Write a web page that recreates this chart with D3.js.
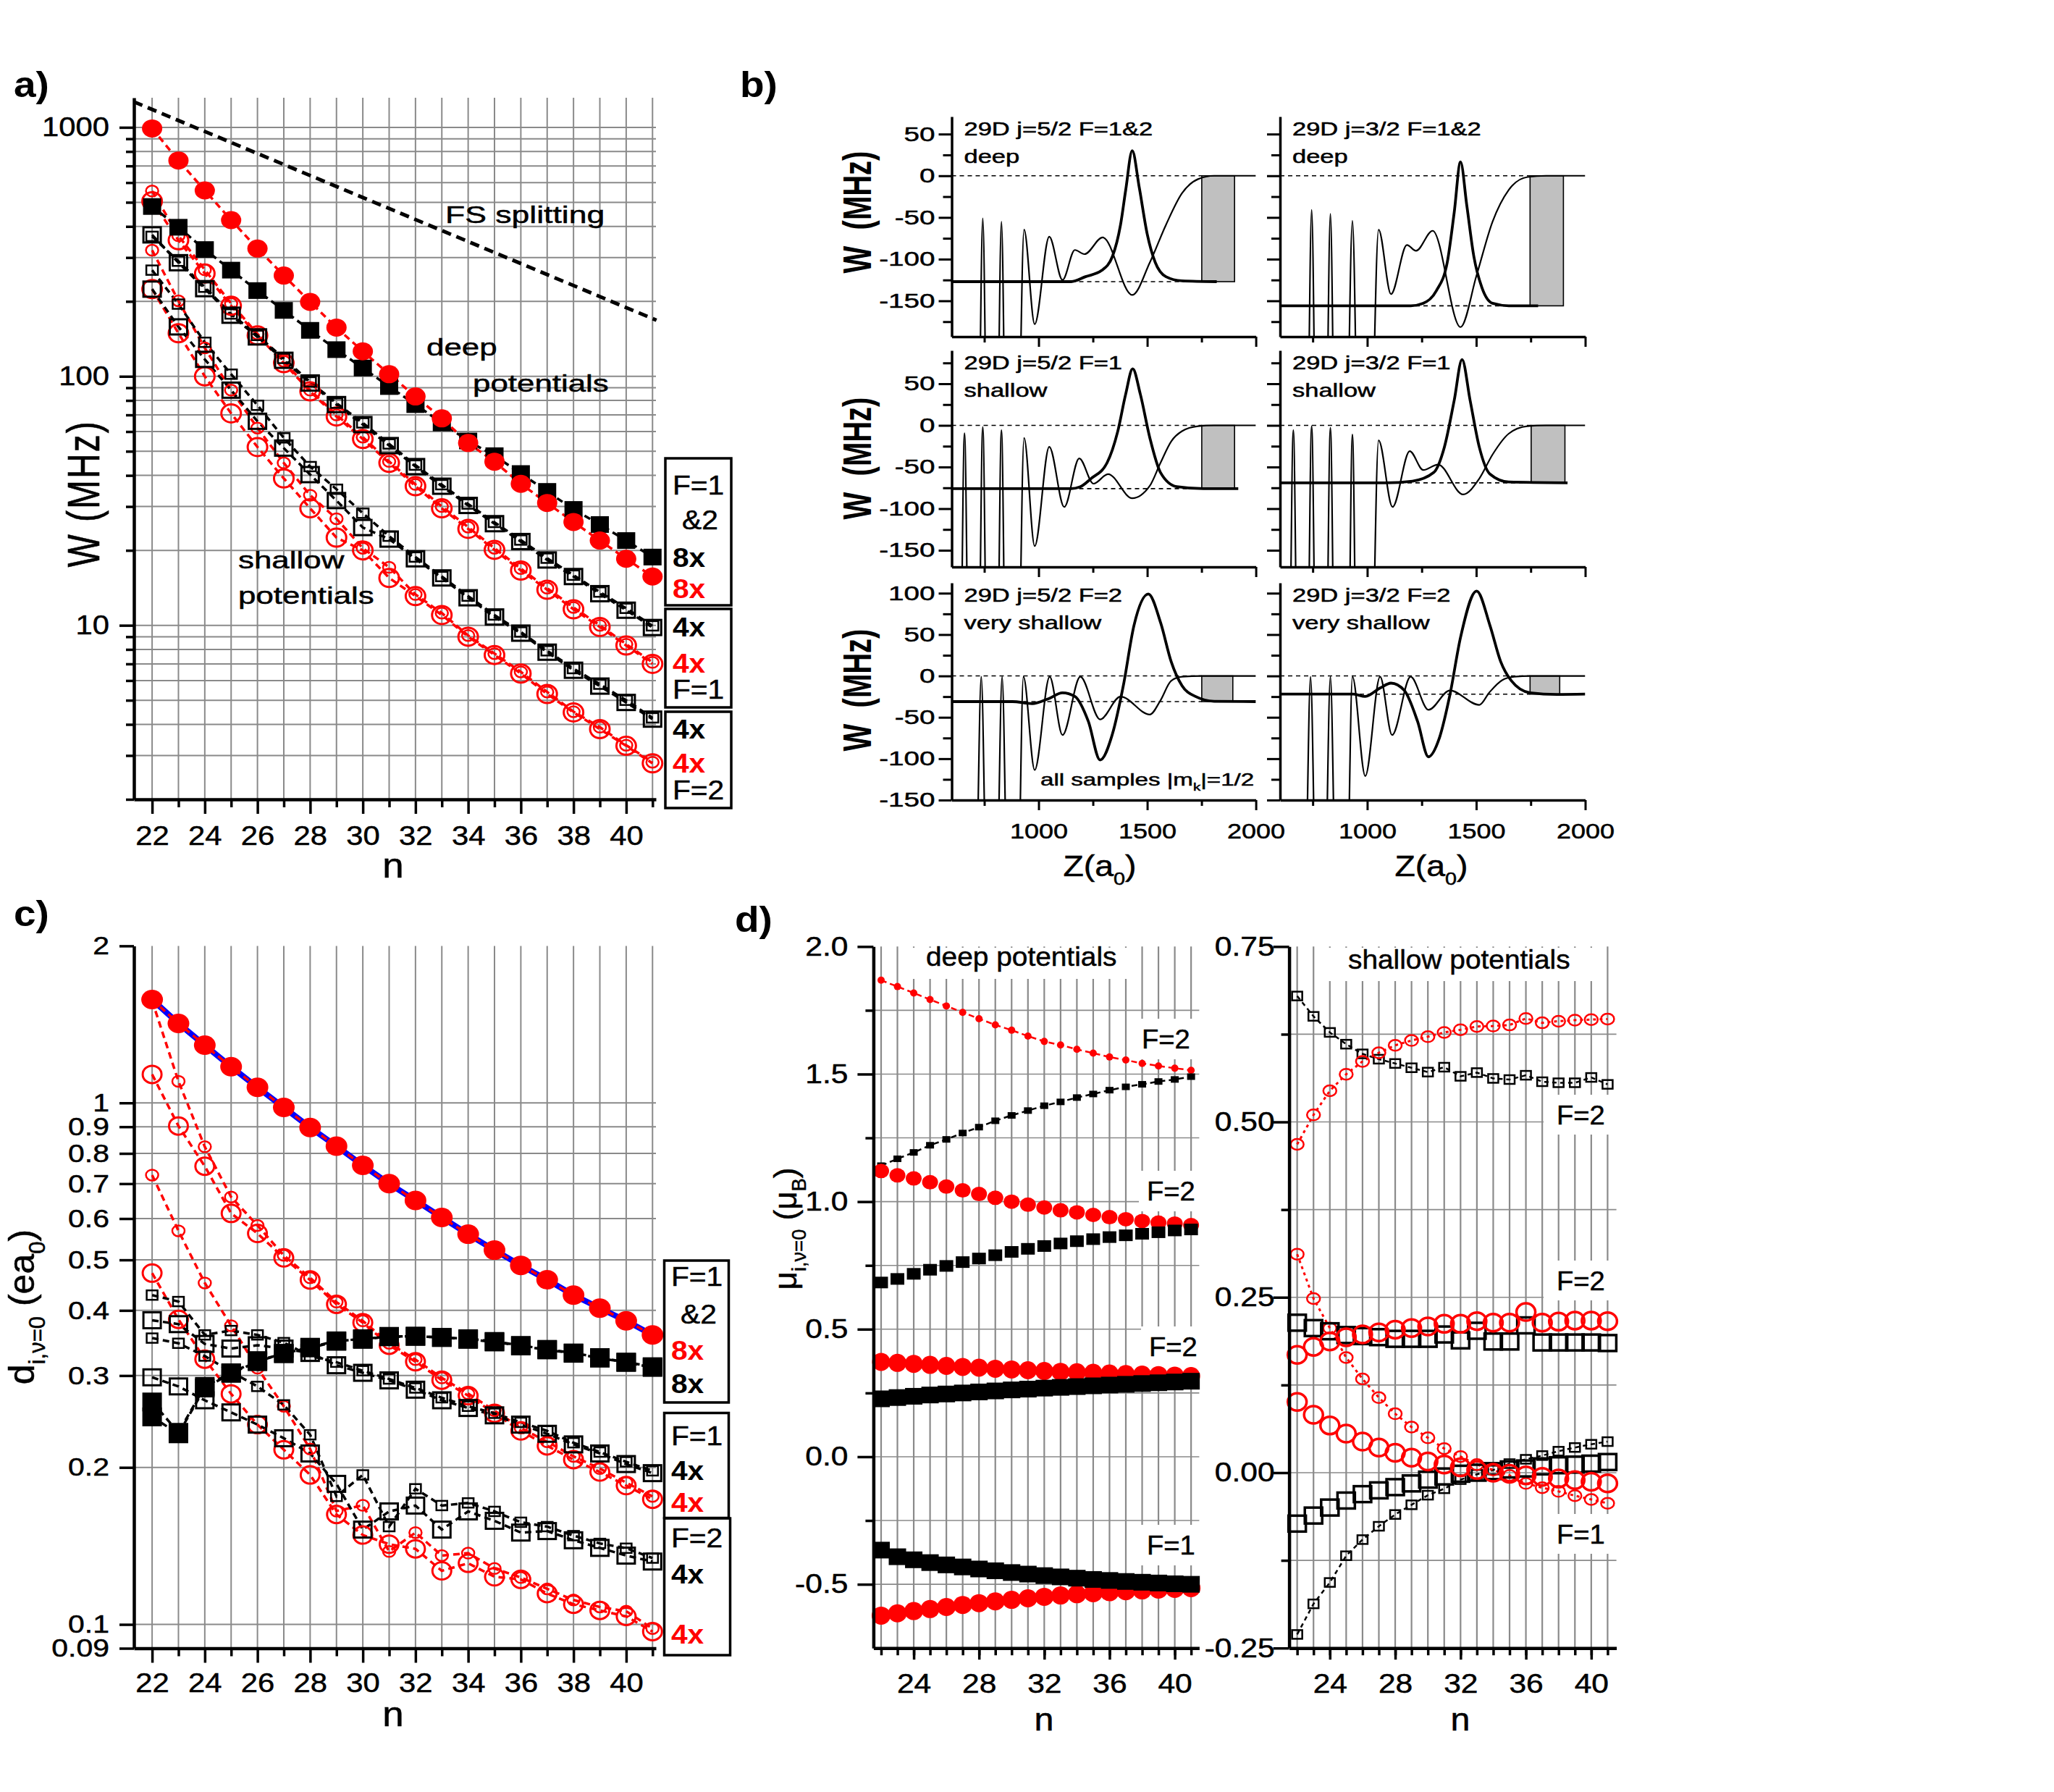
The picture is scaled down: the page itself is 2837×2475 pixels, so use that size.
<!DOCTYPE html>
<html>
<head>
<meta charset="utf-8">
<script src="https://cdn.jsdelivr.net/npm/d3@7"></script>
<style>
  body { margin: 0; background: #fff; }
  svg { display: block; }
</style>
</head>
<body>
<svg id="fig" width="2837" height="2475"></svg>
<script>
// ---------- data ----------
const nVals = [22,23,24,25,26,27,28,29,30,31,32,33,34,35,36,37,38,39,40,41];
const nEven = [22,24,26,28,30,32,34,36,38,40];
const nOdd  = [23,25,27,29,31,33,35,37,39,41];
const nMajD = [24,28,32,36,40];

// a) W (MHz) vs n
const aFSn = [21.3, 41.15];
const aFSw = [1267, 168];
const aRed8    = [990,736,558,424,326,254,199,157,126,102,83,67.8,54,45.4,37,31,26,21.9,18.5,15.7];
const aBlk8    = [481,397,323,267,221,184,153,128,108,91,77,65,55,48,40.7,34.5,29.2,25.4,21.9,18.8];
const aF1Blk4  = [370,286,225,176,144,116,94,77,64,52.7,43.4,36.2,30.3,25.6,21.7,18.3,15.7,13.4,11.5,9.8];
const aF1Blk4s = [365,290,228,178,146,118,95,78,65,53.5,44,36.7,30.7,25.9,22,18.6,15.9,13.6,11.7,9.95];
const aF1Red4  = [505,352,259,192,146,113,87,69,56,44.9,36.2,29.5,24.4,20.1,16.6,13.9,11.6,9.85,8.3,7.0];
const aF1Red4s = [555,367,268,196,148,115,88,70,57,45.5,36.8,30,24.8,20.4,16.9,14.1,11.8,10,8.4,7.1];
const aF2Blk4  = [224,158,117,88,66,51.5,40.3,31.7,24.7,22.2,18.5,15.5,12.9,10.8,9.3,7.8,6.6,5.7,4.9,4.2];
const aF2Blk4s = [267,195,137,102,76.5,56.6,43.4,35.2,28.2,22.8,18.8,15.7,13.1,11,9.4,7.9,6.7,5.8,5,4.25];
const aF2Red4  = [224,149,100,71,52,38.9,29.5,22.5,20,15.5,13.1,11,9.0,7.6,6.4,5.3,4.47,3.83,3.28,2.79];
const aF2Red4s = [321,201,130,88,62,44.9,33.3,26.8,20.4,17.1,13.3,11.2,9.1,7.7,6.5,5.4,4.5,3.9,3.3,2.82];
const aMajorW = [10,100,1000];
const aMinorW = [2,3,4,5,6,7,8,9,20,30,40,50,60,70,80,90,200,300,400,500,600,700,800,900];

// b) potentials (Z in a0, W in MHz)
const b11PotZ = [680,719,743,767,805,829,853,900,933,982,1049,1110,1167,1211,1295,1431,1512,1586,1660,1734,1808,2000];
const b11PotW = [-400,-400,-51,-400,-400,-55,-400,-400,-64.5,-178,-73,-125,-89,-94,-74,-143,-104,-59,-21,-4,0,0];
const b11WfZ  = [600,1150,1216,1290,1340,1377,1401,1431,1463,1500,1537,1586,1660,1820];
const b11WfW  = [-127,-127,-121,-113.6,-96.6,-59,-17,30,-13.6,-70,-104,-121,-126,-127];
const b12PotZ = [680,721,745,769,807,831,855,900,932,964,1010,1052,1109,1182,1224,1300,1428,1502,1575,1649,1735,1821,2000];
const b12PotW = [-400,-400,-41,-400,-400,-45.7,-400,-400,-54,-400,-400,-64.5,-142,-83,-90,-66,-181.5,-119,-55,-17,-1.5,0,0];
const b12WfZ  = [600,1200,1256,1317,1367,1399,1428,1457,1489,1526,1575,1649,1784];
const b12WfW  = [-156,-156,-153,-138,-104,-44,16.6,-36,-96.6,-134,-153,-156,-156];
const b21PotZ = [600,635,659,683,719,743,767,805,829,853,900,933,982,1049,1118,1187,1253,1320,1431,1512,1561,1611,1660,1734,1808,2000];
const b21PotW = [-400,-400,-9.4,-400,-400,-2,-400,-400,-5.7,-400,-400,-15,-145,-25.7,-98,-39.6,-70,-58.5,-87.5,-72.5,-45,-19,-7,-1,0,0];
const b21WfZ  = [600,1150,1190,1241,1315,1364,1401,1433,1468,1512,1561,1636,1759,1919];
const b21WfW  = [-76,-76,-74,-64,-45,-7.5,37.7,68,37.7,-15,-56.6,-73.6,-76,-76];
const b22PotZ = [600,637,661,685,721,745,769,807,831,855,908,932,956,1012,1052,1116,1195,1257,1325,1440,1514,1575,1649,1735,1821,2000];
const b22PotW = [-400,-400,-5.7,-400,-400,-1,-400,-400,-3,-400,-400,-11,-400,-400,-18,-98,-31,-53.6,-47,-83,-64,-35,-10,-1,0,0];
const b22WfZ  = [600,1084,1207,1305,1354,1399,1435,1472,1514,1563,1649,1919];
const b22WfW  = [-69,-69,-67,-56.6,-26,30,79,30,-26,-58.5,-68,-69];
const b31PotZ = [600,708,736,764,804,832,860,902,930,982,1051,1110,1192,1283,1377,1512,1560,1610,1660,1751,2000];
const b31PotW = [-300,-300,-1,-300,-300,-1,-300,-300,-1,-113.7,-1,-71.4,-1,-52.5,-25,-46.6,-30,-6,-1,0,0];
const b31WfZ  = [600,880,970,1044,1110,1167,1229,1283,1340,1390,1439,1505,1562,1610,1660,1722,1808,2000];
const b31WfW  = [-31,-31,-33.5,-27.7,-20.4,-24.8,-55,-101.5,-70,-11.7,61,99,64,17.5,-11.7,-24.8,-30.6,-31];
const b32PotZ = [600,712,740,768,803,831,859,904,932,991,1059,1114,1199,1281,1379,1514,1560,1620,1674,1750,2000];
const b32PotW = [-300,-300,-1,-300,-300,-1,-300,-300,-1,-121,-1,-71.4,-1,-41,-17.5,-35,-20,-5,-1,0,0];
const b32WfZ  = [600,937,991,1059,1109,1170,1231,1281,1330,1379,1428,1502,1563,1612,1661,1747,1870,2000];
const b32WfW  = [-22,-22,-24.8,-14.6,-8.7,-17.5,-55,-97.7,-75.8,-23.3,46.6,102.6,61,17.5,-5.8,-20.4,-22.4,-22];
const bEnergy = [-127,-156,-76,-69,-31,-22];
const bBoxZ0  = [1751,1747,1751,1752,1751,1747];
const bBoxZ1  = [1902,1900,1902,1907,1894,1883];
const bTitles = ["29D j=5/2 F=1&2","29D j=3/2 F=1&2","29D j=5/2 F=1","29D j=3/2 F=1","29D j=5/2 F=2","29D j=3/2 F=2"];
const bKinds  = ["deep","deep","shallow","shallow","very shallow","very shallow"];
const bYMajor = [[50,0,-50,-100,-150],[50,0,-50,-100,-150],[100,50,0,-50,-100,-150]];
const bYMinor = [[25,-25,-75,-125,-175],[75,25,-25,-75,-125],[75,25,-25,-75,-125]];
const bXMajor = [1000,1500,2000];
const bXMinor = [750,1250,1750];

// c) dipole moment vs n
const cRed8    = [1.578,1.42,1.29,1.173,1.071,0.98,0.897,0.826,0.759,0.70,0.65,0.603,0.56,0.522,0.488,0.458,0.428,0.404,0.382,0.359];
const cBlk8a   = [0.267,0.2335,0.286,0.3037,0.3205,0.3304,0.34,0.3497,0.352,0.3567,0.3567,0.355,0.353,0.3488,0.3427,0.3368,0.3315,0.3248,0.3183,0.312];
const cBlk8b   = [0.25,0.232,0.284,0.303,0.319,0.331,0.339,0.349,0.353,0.356,0.357,0.355,0.352,0.348,0.342,0.336,0.331,0.324,0.318,0.311];
const cF1Red4  = [1.134,0.903,0.756,0.614,0.562,0.5045,0.4575,0.411,0.379,0.343,0.319,0.294,0.2746,0.254,0.235,0.22,0.207,0.196,0.1846,0.1738];
const cF1Red4s = [1.57,1.10,0.824,0.66,0.582,0.51,0.462,0.415,0.382,0.346,0.322,0.297,0.277,0.257,0.238,0.224,0.21,0.199,0.187,0.176];
const cF1Blk4  = [0.383,0.3765,0.345,0.338,0.343,0.338,0.3315,0.314,0.3037,0.2937,0.2819,0.269,0.26,0.2517,0.2416,0.232,0.2214,0.2127,0.203,0.195];
const cF1Blk4s = [0.428,0.416,0.359,0.366,0.359,0.347,0.327,0.3183,0.3065,0.2955,0.284,0.272,0.262,0.254,0.244,0.235,0.223,0.214,0.205,0.197];
const cF2Red4  = [0.4716,0.3845,0.3226,0.2767,0.2416,0.2162,0.1935,0.1625,0.1484,0.1425,0.1396,0.1267,0.131,0.1234,0.122,0.1146,0.1093,0.1064,0.1036,0.0969];
const cF2Red4s = [0.727,0.5685,0.4515,0.374,0.31,0.262,0.217,0.165,0.1692,0.138,0.15,0.1355,0.137,0.128,0.123,0.117,0.1114,0.108,0.106,0.0982];
const cF2Blk4  = [0.2977,0.286,0.269,0.255,0.2416,0.2275,0.2127,0.186,0.152,0.1647,0.169,0.152,0.1647,0.158,0.15,0.151,0.145,0.1402,0.1355,0.132];
const cF2Blk4s = [0.354,0.346,0.327,0.305,0.286,0.2636,0.231,0.176,0.1935,0.154,0.182,0.169,0.171,0.1647,0.157,0.154,0.148,0.143,0.14,0.134];
const cTicks   = [0.09,0.1,0.2,0.3,0.4,0.5,0.6,0.7,0.8,0.9,1,2];
const cGrid    = [0.1,0.2,0.3,0.4,0.5,0.6,0.7,0.8,0.9,1];

// d) magnetic moment vs n
const dL_redS  = [1.868,1.843,1.818,1.792,1.767,1.742,1.717,1.693,1.672,1.649,1.628,1.614,1.597,1.582,1.567,1.555,1.542,1.532,1.523,1.515];
const dL_blkS  = [1.141,1.168,1.193,1.221,1.244,1.269,1.292,1.317,1.338,1.357,1.376,1.391,1.408,1.422,1.437,1.45,1.46,1.471,1.479,1.49];
const dL_redM  = [1.12,1.103,1.091,1.076,1.059,1.044,1.03,1.015,1.0,0.988,0.977,0.966,0.958,0.948,0.939,0.931,0.924,0.918,0.914,0.908];
const dL_blkM  = [0.683,0.697,0.717,0.733,0.748,0.763,0.777,0.79,0.803,0.815,0.826,0.836,0.845,0.853,0.861,0.868,0.874,0.88,0.887,0.891];
const dL_redL  = [0.372,0.368,0.364,0.36,0.356,0.352,0.349,0.345,0.342,0.339,0.336,0.333,0.331,0.329,0.326,0.324,0.322,0.32,0.318,0.316];
const dL_blkL  = [0.227,0.232,0.237,0.242,0.246,0.25,0.254,0.258,0.262,0.265,0.269,0.272,0.275,0.278,0.281,0.284,0.287,0.29,0.293,0.296];
const dL_redF1 = [-0.623,-0.614,-0.605,-0.597,-0.589,-0.581,-0.574,-0.567,-0.561,-0.555,-0.549,-0.544,-0.539,-0.535,-0.531,-0.527,-0.524,-0.521,-0.518,-0.515];
const dL_blkF1 = [-0.366,-0.392,-0.404,-0.415,-0.424,-0.432,-0.44,-0.447,-0.454,-0.46,-0.466,-0.471,-0.476,-0.481,-0.485,-0.489,-0.492,-0.495,-0.498,-0.5];
const dR_A = [0.6795,0.6505,0.6276,0.6108,0.597,0.5894,0.5833,0.5772,0.571,0.578,0.565,0.5703,0.562,0.5604,0.5665,0.5573,0.5558,0.5558,0.5634,0.5535];
const dR_B = [0.468,0.51,0.5444,0.568,0.5863,0.5986,0.6092,0.6161,0.6215,0.6276,0.6314,0.636,0.6367,0.6382,0.6474,0.6413,0.6436,0.6451,0.6459,0.6467];
const dR_C = [0.2138,0.2061,0.2016,0.1962,0.1947,0.1932,0.1908,0.1908,0.1908,0.197,0.1886,0.2023,0.187,0.187,0.21,0.1856,0.1856,0.1856,0.1856,0.1848];
const dR_D = [0.168,0.1794,0.187,0.1931,0.197,0.2,0.2039,0.2061,0.2085,0.2122,0.2122,0.216,0.2138,0.2138,0.229,0.2138,0.2153,0.2168,0.2168,0.216];
const dR_E = [0.3115,0.2482,0.2061,0.1641,0.1336,0.107,0.084,0.065,0.0497,0.0344,0.023,0.0115,0.0038,-0.0038,-0.0153,-0.0214,-0.0267,-0.0328,-0.0382,-0.0436];
const dR_F = [0.1008,0.0825,0.0672,0.0557,0.0443,0.0359,0.0283,0.0214,0.016,0.0115,0.0076,0.0038,0.0,-0.0015,-0.0038,-0.006,-0.0084,-0.0107,-0.013,-0.0153];
const dR_G = [-0.0726,-0.0611,-0.0497,-0.0397,-0.0306,-0.0252,-0.0206,-0.0153,-0.0099,-0.0054,-0.0015,0,0.0022,0.0046,0.006,0.009,0.0106,0.0115,0.0129,0.0152];
const dR_H = [-0.2306,-0.187,-0.1565,-0.1184,-0.0954,-0.0764,-0.0596,-0.0458,-0.0321,-0.0229,-0.0099,-0.0023,0.0038,0.0129,0.0191,0.0244,0.0306,0.0359,0.0405,0.0443];
const dLMajor = [-0.5,0,0.5,1,1.5,2];
const dLMinor = [-0.25,0.25,0.75,1.25,1.75];
const dLGrid  = [-0.5,-0.25,0,0.25,0.5,0.75,1,1.25,1.5,1.75];
const dRMajor = [-0.25,0,0.25,0.5,0.75];
const dRMinor = [-0.125,0.125,0.375,0.625];
const dRGrid  = [-0.125,0,0.125,0.25,0.375,0.5,0.625];

// ---------- helpers ----------
const FONT = '"Liberation Sans", Arial, Helvetica, sans-serif';
const RED = "#ff0000", GRID = "#8a8a8a";
const svg = d3.select("#fig");
svg.append("rect").attr("width", 2837).attr("height", 2475).attr("fill", "#fff");

function txt(parent, x, y, parts, o = {}) {
  const fs = o.fs || 30;
  let tf = `translate(${x},${y})`;
  if (o.sx) tf += ` scale(${o.sx},1)`;
  if (o.rot) tf += ` rotate(${o.rot})`;
  const t = parent.append("text").attr("transform", tf)
    .attr("font-family", FONT).attr("font-size", fs)
    .attr("font-weight", o.bold ? "bold" : "normal")
    .attr("fill", o.fill || "#000")
    .attr("stroke", o.bold ? "none" : (o.fill || "#000")).attr("stroke-width", o.bold ? 0 : 0.5)
    .attr("text-anchor", o.anchor || "start")
    .style("white-space", "pre");
  if (o.ls != null) t.attr("letter-spacing", o.ls);
  if (typeof parts === "string") parts = [parts];
  let shift = 0;
  parts.forEach(p => {
    const isSub = typeof p !== "string";
    const want = isSub ? fs * 0.3 : 0;
    const ts = t.append("tspan").text(isSub ? p.sub : p).attr("dy", want - shift);
    if (isSub) ts.attr("font-size", fs * 0.62);
    shift = want;
  });
  return t;
}

function styleTicks(g, o) {
  g.selectAll(".tick line").attr("stroke", "#000").attr("stroke-width", o.tw || 3);
  return g.selectAll(".tick text").attr("font-family", FONT).attr("font-size", o.fs || 30)
    .attr("fill", "#000").attr("stroke", "#000").attr("stroke-width", 0.5);
}
function axisL(parent, scale, x, vals, len, o = {}) {
  const pad = o.pad || 0, sx = o.sx || 1;
  const g = parent.append("g").attr("transform", `translate(${x},0)`)
    .call(d3.axisLeft(scale).tickValues(vals).tickSize(len).tickSizeOuter(0)
      .tickPadding(pad).tickFormat(o.fmt || (() => "")));
  if (o.noDomain) g.select(".domain").remove();
  else g.select(".domain").attr("stroke", "#000").attr("stroke-width", o.dw || 4);
  styleTicks(g, o).attr("x", -(len + pad) / sx).attr("transform", `scale(${sx},1)`);
  return g;
}
function axisB(parent, scale, y, vals, len, o = {}) {
  const pad = o.pad || 0, sx = o.sx || 1;
  const g = parent.append("g").attr("transform", `translate(0,${y})`)
    .call(d3.axisBottom(scale).tickValues(vals).tickSize(len).tickSizeOuter(0)
      .tickPadding(pad).tickFormat(o.fmt || (() => "")));
  if (o.noDomain) g.select(".domain").remove();
  else g.select(".domain").attr("stroke", "#000").attr("stroke-width", o.dw || 4);
  styleTicks(g, o).attr("transform", `scale(${sx},1)`);
  return g;
}

function seriesLine(g, xs, ysc, vals, st) {
  if (!st.dash && !st.solid) return;
  g.append("path").datum(nVals.map((n, i) => [n, vals[i]]))
    .attr("d", d3.line().x(d => xs(d[0])).y(d => ysc(d[1])))
    .attr("fill", "none").attr("stroke", st.lc || st.color)
    .attr("stroke-width", st.lw || 3.5)
    .attr("stroke-dasharray", st.solid ? null : st.dash);
}
function seriesMarks(g, xs, ysc, vals, st) {
  if (!st.shape) return;
  const pts = nVals.map((n, i) => [n, vals[i]]);
  const m = g.append("g");
  if (st.shape === "circle") {
    m.selectAll("ellipse").data(pts).join("ellipse")
      .attr("cx", d => xs(d[0])).attr("cy", d => ysc(d[1]))
      .attr("rx", st.w / 2).attr("ry", st.h / 2)
      .attr("fill", st.filled ? st.color : "none")
      .attr("stroke", st.filled ? "none" : st.color)
      .attr("stroke-width", st.sw || 3);
  } else {
    m.selectAll("rect").data(pts).join("rect")
      .attr("x", d => xs(d[0]) - st.w / 2).attr("y", d => ysc(d[1]) - st.h / 2)
      .attr("width", st.w).attr("height", st.h)
      .attr("fill", st.filled ? st.color : "none")
      .attr("stroke", st.filled ? "none" : st.color)
      .attr("stroke-width", st.sw || 3);
  }
}
function vgrid(g, xs, ysc, vals, w) {
  const [y0, y1] = ysc.range();
  g.append("g").selectAll("line").data(vals).join("line")
    .attr("x1", d => xs(d)).attr("x2", d => xs(d)).attr("y1", y0).attr("y2", y1)
    .attr("stroke", GRID).attr("stroke-width", w || 2);
}
function hgrid(g, xs, ysc, vals, w) {
  const [x0, x1] = xs.range();
  g.append("g").selectAll("line").data(vals).join("line")
    .attr("x1", x0).attr("x2", x1).attr("y1", d => ysc(d)).attr("y2", d => ysc(d))
    .attr("stroke", GRID).attr("stroke-width", w || 2);
}
function legendBox(g, x, y, w, h, items) {
  g.append("rect").attr("x", x).attr("y", y).attr("width", w).attr("height", h)
    .attr("fill", "none").attr("stroke", "#000").attr("stroke-width", 3.5);
  items.forEach(it => txt(g, it.x, it.y, it.t, { fs: 37, sx: 1.1, bold: it.bold, fill: it.fill }));
}

// ---------- panel a ----------
const gA = svg.append("g");
const xA = d3.scaleLinear().domain([21.31, 41.13]).range([185, 906]);
const yA = d3.scaleLog().domain([2, 1315]).range([1104, 135]);
vgrid(gA, xA, yA, nVals, 2);
hgrid(gA, xA, yA, aMinorW.concat(aMajorW), 2);

gA.append("path").datum(aFSn.map((n, i) => [n, aFSw[i]]))
  .attr("d", d3.line().x(d => xA(d[0])).y(d => yA(d[1])))
  .attr("fill", "none").attr("stroke", "#000").attr("stroke-width", 5).attr("stroke-dasharray", "13,8");

const aDash = "9,6";
const aSeries = [
  { v: aF2Red4s, color: RED, shape: "circle", w: 17, h: 15, sw: 2.5, dash: aDash },
  { v: aF2Red4,  color: RED, shape: "circle", w: 27, h: 25, sw: 3, dash: aDash },
  { v: aF2Blk4s, color: "#000", shape: "square", w: 16, h: 13, sw: 2.5, dash: aDash },
  { v: aF2Blk4,  color: "#000", shape: "square", w: 24, h: 21, sw: 3, dash: aDash },
  { v: aF1Red4s, color: RED, shape: "circle", w: 17, h: 15, sw: 2.5, dash: aDash },
  { v: aF1Red4,  color: RED, shape: "circle", w: 27, h: 25, sw: 3, dash: aDash },
  { v: aF1Blk4s, color: "#000", shape: "square", w: 16, h: 13, sw: 2.5, dash: aDash },
  { v: aF1Blk4,  color: "#000", shape: "square", w: 24, h: 21, sw: 3, dash: aDash },
  { v: aBlk8,    color: "#000", shape: "square", w: 25, h: 23, filled: true, dash: aDash },
  { v: aRed8,    color: RED, shape: "circle", w: 28, h: 25, filled: true, dash: aDash }
];
aSeries.forEach(s => seriesLine(gA, xA, yA, s.v, s));
aSeries.forEach(s => seriesMarks(gA, xA, yA, s.v, s));

axisL(gA, yA, 185, aMajorW, 20, { pad: 14, fs: 37, sx: 1.13, fmt: d => String(d), dw: 4.5, tw: 3.5 });
axisL(gA, yA, 185, aMinorW, 11, { noDomain: true, tw: 3.5 });
axisB(gA, xA, 1104, nEven, 20, { pad: 17, fs: 37, sx: 1.13, fmt: d => String(d), dw: 4.5, tw: 3.5 });
axisB(gA, xA, 1104, nOdd, 11, { noDomain: true, tw: 3.5 });

txt(gA, 137, 682, "W (MHz)", { fs: 48, sx: 1.3, rot: -90, anchor: "middle", ls: 2 });
txt(gA, 543, 1212, "n", { fs: 48, sx: 1.1, anchor: "middle" });
txt(gA, 615, 308, "FS splitting", { fs: 34, sx: 1.31 });
txt(gA, 589, 491, "deep", { fs: 33, sx: 1.33 });
txt(gA, 653, 541, "potentials", { fs: 33, sx: 1.33 });
txt(gA, 329, 785, "shallow", { fs: 33, sx: 1.33 });
txt(gA, 329, 834, "potentials", { fs: 33, sx: 1.33 });
txt(gA, 19, 134, "a)", { fs: 50, sx: 1.1, bold: true });

legendBox(gA, 919, 633, 91, 203, [
  { t: "F=1", x: 929, y: 683 }, { t: "&2", x: 942, y: 731 },
  { t: "8x", x: 929, y: 783, bold: true }, { t: "8x", x: 929, y: 826, bold: true, fill: RED }]);
legendBox(gA, 919, 841, 91, 136, [
  { t: "4x", x: 929, y: 879, bold: true }, { t: "4x", x: 929, y: 929, bold: true, fill: RED },
  { t: "F=1", x: 929, y: 965 }]);
legendBox(gA, 919, 983, 91, 133, [
  { t: "4x", x: 929, y: 1020, bold: true }, { t: "4x", x: 929, y: 1067, bold: true, fill: RED },
  { t: "F=2", x: 929, y: 1104 }]);

// ---------- panel b ----------
const gB = svg.append("g");
const xBcols = [
  d3.scaleLinear().domain([600, 2000]).range([1314.5, 1734.6]),
  d3.scaleLinear().domain([600, 2000]).range([1768, 2189.5])
];
const yBrows = [
  d3.scaleLinear().domain([-193, 71]).range([465, 161]),
  d3.scaleLinear().domain([-170, 90]).range([783, 484]),
  d3.scaleLinear().domain([-150, 112.5]).range([1105, 805])
];
const bPot = [[b11PotZ,b11PotW],[b12PotZ,b12PotW],[b21PotZ,b21PotW],[b22PotZ,b22PotW],[b31PotZ,b31PotW],[b32PotZ,b32PotW]];
const bWf  = [[b11WfZ,b11WfW],[b12WfZ,b12WfW],[b21WfZ,b21WfW],[b22WfZ,b22WfW],[b31WfZ,b31WfW],[b32WfZ,b32WfW]];
const defs = svg.append("defs");

bTitles.forEach((title, i) => {
  const r = Math.floor(i / 2), c = i % 2;
  const xs = xBcols[c], ys = yBrows[r];
  const [x0, x1] = xs.range(), [yb, yt] = ys.range();
  const cid = "clipb" + i;
  defs.append("clipPath").attr("id", cid).append("rect")
    .attr("x", x0).attr("y", yt).attr("width", x1 - x0).attr("height", yb - yt);
  const g = gB.append("g");
  const zStart = xs.domain()[0];
  [0, bEnergy[i]].forEach(w => {
    g.append("line").attr("x1", xs(zStart)).attr("x2", xs(bBoxZ0[i]))
      .attr("y1", ys(w)).attr("y2", ys(w))
      .attr("stroke", "#000").attr("stroke-width", 1.6).attr("stroke-dasharray", "6,5");
  });
  g.append("rect").attr("x", xs(bBoxZ0[i])).attr("y", ys(0))
    .attr("width", xs(bBoxZ1[i]) - xs(bBoxZ0[i])).attr("height", ys(bEnergy[i]) - ys(0))
    .attr("fill", "#c0c0c0").attr("stroke", "#000").attr("stroke-width", 1.6);
  const line = d3.line().x(d => xs(d[0])).y(d => ys(d[1])).curve(d3.curveMonotoneX);
  const cg = g.append("g").attr("clip-path", `url(#${cid})`);
  const [pz, pw] = bPot[i];
  cg.append("path").datum(pz.map((z, k) => [z, pw[k]])).attr("d", line)
    .attr("fill", "none").attr("stroke", "#000").attr("stroke-width", 2.2);
  const [wz, ww] = bWf[i];
  cg.append("path").datum(wz.map((z, k) => [z, ww[k]])).attr("d", line)
    .attr("fill", "none").attr("stroke", "#000").attr("stroke-width", 3.8);

  axisL(g, ys, x0, bYMajor[r], 18, { pad: 5, fs: 28, sx: 1.38, dw: 3.5, tw: 3,
    fmt: c === 0 ? (d => String(d)) : (() => "") });
  axisL(g, ys, x0, bYMinor[r], 12, { noDomain: true, tw: 3 });
  axisB(g, xs, yb, bXMajor, 14, { pad: 18, fs: 30, sx: 1.2, dw: 3.5, tw: 3,
    fmt: r === 2 ? (d => String(d)) : (() => "") });
  axisB(g, xs, yb, bXMinor, 8, { noDomain: true, tw: 3 });

  txt(g, x0 + 17, yt + 26, title, { fs: 25, sx: 1.38 });
  txt(g, x0 + 17, yt + 64, bKinds[i], { fs: 25, sx: 1.38 });
});
[293, 633, 953].forEach(cy => txt(gB, 1203, cy, "W  (MHz)", { fs: 40, sx: 1.4, bold: true, rot: -90, anchor: "middle" }));
txt(gB, 1437, 1085, ["all samples |m", { sub: "k" }, "|=1/2"], { fs: 24, sx: 1.38 });
txt(gB, 1519, 1210, ["Z(a", { sub: "0" }, ")"], { fs: 40, sx: 1.16, anchor: "middle" });
txt(gB, 1977, 1210, ["Z(a", { sub: "0" }, ")"], { fs: 40, sx: 1.16, anchor: "middle" });
txt(gB, 1022, 134, "b)", { fs: 50, sx: 1.1, bold: true });

// ---------- panel c ----------
const gC = svg.append("g");
const xC = d3.scaleLinear().domain([21.31, 41.13]).range([185, 906]);
const yC = d3.scaleLog().domain([0.09, 2]).range([2276.5, 1306.4]);
vgrid(gC, xC, yC, nVals, 2);
hgrid(gC, xC, yC, cGrid, 2);
const cDash = "9,6";
const cSeries = [
  { v: cF2Red4s, color: RED, shape: "circle", w: 17, h: 15, sw: 2.5, dash: cDash },
  { v: cF2Red4,  color: RED, shape: "circle", w: 26, h: 24, sw: 3, dash: cDash },
  { v: cF2Blk4s, color: "#000", shape: "square", w: 15, h: 13, sw: 2.5, dash: cDash },
  { v: cF2Blk4,  color: "#000", shape: "square", w: 24, h: 22, sw: 3, dash: cDash },
  { v: cF1Red4s, color: RED, shape: "circle", w: 17, h: 15, sw: 2.5, dash: cDash },
  { v: cF1Red4,  color: RED, shape: "circle", w: 26, h: 24, sw: 3, dash: cDash },
  { v: cF1Blk4s, color: "#000", shape: "square", w: 15, h: 13, sw: 2.5, dash: cDash },
  { v: cF1Blk4,  color: "#000", shape: "square", w: 24, h: 22, sw: 3, dash: cDash },
  { v: cBlk8b,   color: "#000", shape: "square", w: 27, h: 26, filled: true, dash: cDash },
  { v: cBlk8a,   color: "#000", shape: "square", w: 27, h: 26, filled: true, dash: cDash },
  { v: cRed8,    color: "#0000ff", solid: true, lw: 8 },
  { v: cRed8,    color: RED, shape: "circle", w: 30, h: 27, filled: true, dash: cDash }
];
cSeries.forEach(s => seriesLine(gC, xC, yC, s.v, s));
cSeries.forEach(s => seriesMarks(gC, xC, yC, s.v, s));
axisL(gC, yC, 185, cTicks, 20, { pad: 14, fs: 35, sx: 1.17, fmt: d => String(d), dw: 4.5, tw: 3.5 });
axisB(gC, xC, 2276.5, nEven, 20, { pad: 14, fs: 37, sx: 1.13, fmt: d => String(d), dw: 4.5, tw: 3.5 });
axisB(gC, xC, 2276.5, nOdd, 11, { noDomain: true, tw: 3.5 });
txt(gC, 47, 1805, ["d", { sub: "i,ν=0" }, " (ea", { sub: "0" }, ")"], { fs: 50, rot: -90, anchor: "middle" });
txt(gC, 543, 2384, "n", { fs: 48, sx: 1.1, anchor: "middle" });
txt(gC, 19, 1279, "c)", { fs: 50, sx: 1.1, bold: true });
legendBox(gC, 917.5, 1741, 89, 196, [
  { t: "F=1", x: 927, y: 1776 }, { t: "&2", x: 940, y: 1828 },
  { t: "8x", x: 927, y: 1878, bold: true, fill: RED }, { t: "8x", x: 927, y: 1924, bold: true }]);
legendBox(gC, 917.5, 1951.5, 89, 145, [
  { t: "F=1", x: 927, y: 1996 }, { t: "4x", x: 927, y: 2044, bold: true },
  { t: "4x", x: 927, y: 2088, bold: true, fill: RED }]);
legendBox(gC, 917.5, 2097, 91, 189, [
  { t: "F=2", x: 927, y: 2137 }, { t: "4x", x: 927, y: 2187, bold: true },
  { t: "4x", x: 927, y: 2270, bold: true, fill: RED }]);

// ---------- panel d ----------
const gD = svg.append("g");
const xDL = d3.scaleLinear().domain([21.53, 41.5]).range([1206.4, 1656.4]);
const yDL = d3.scaleLinear().domain([-0.75, 2.0]).range([2276.2, 1307.3]);
const xDR = d3.scaleLinear().domain([21.51, 41.54]).range([1780.6, 2232.6]);
const yDR = d3.scaleLinear().domain([-0.25, 0.75]).range([2276.2, 1307.3]);

vgrid(gD, xDL, yDL, nVals, 2.2);
hgrid(gD, xDL, yDL, dLGrid, 1.6);
vgrid(gD, xDR, yDR, nVals, 2.2);
hgrid(gD, xDR, yDR, dRGrid, 1.6);

function whiteBox(g, x0, y0, x1, y1) {
  g.append("rect").attr("x", x0).attr("y", y0).attr("width", x1 - x0).attr("height", y1 - y0).attr("fill", "#fff");
}
const dLLabels = [{ t: "F=2", x: 1577, y: 1448 }, { t: "F=2", x: 1584, y: 1658 }, { t: "F=2", x: 1587, y: 1873 }, { t: "F=1", x: 1584, y: 2147 }];
const dRLabels = [{ t: "F=2", x: 2150, y: 1553 }, { t: "F=2", x: 2150, y: 1782 }, { t: "F=1", x: 2150, y: 2132 }];
dLLabels.forEach(l => whiteBox(gD, l.x - 11, l.y - 41, xDL.range()[1] + 1, l.y + 15));
dRLabels.forEach(l => whiteBox(gD, 2132, l.y - 41, xDR.range()[1] + 1, l.y + 14));
whiteBox(gD, 1250, 1309, 1567, 1352);
whiteBox(gD, 1826, 1309, 2210, 1355);

const dLSeries = [
  { v: dL_redS,  color: RED, shape: "circle", w: 10, h: 10, filled: true, dash: "8,5", lw: 2.5 },
  { v: dL_blkS,  color: "#000", shape: "square", w: 11, h: 9, filled: true, dash: "8,5", lw: 2.5 },
  { v: dL_redM,  color: RED, shape: "circle", w: 22, h: 20, filled: true },
  { v: dL_blkM,  color: "#000", shape: "square", w: 19, h: 16, filled: true },
  { v: dL_redL,  color: RED, shape: "circle", w: 25, h: 25, filled: true },
  { v: dL_blkL,  color: "#000", shape: "square", w: 24, h: 23, filled: true },
  { v: dL_redF1, color: RED, shape: "circle", w: 26, h: 25, filled: true },
  { v: dL_blkF1, color: "#000", shape: "square", w: 24, h: 23, filled: true }
];
dLSeries.forEach(s => seriesLine(gD, xDL, yDL, s.v, s));
dLSeries.forEach(s => seriesMarks(gD, xDL, yDL, s.v, s));

const dRSeries = [
  { v: dR_H, color: "#000", shape: "square", w: 14, h: 12, sw: 2.5, dash: "6,5", lw: 2.5 },
  { v: dR_E, color: RED, shape: "circle", w: 18, h: 15, sw: 2.5, dash: "4,5", lw: 3 },
  { v: dR_G, color: "#000", shape: "square", w: 24, h: 22, sw: 3.5 },
  { v: dR_F, color: RED, shape: "circle", w: 26, h: 24, sw: 3.5 },
  { v: dR_C, color: "#000", shape: "square", w: 24, h: 22, sw: 3.5 },
  { v: dR_D, color: RED, shape: "circle", w: 26, h: 24, sw: 3.5 },
  { v: dR_A, color: "#000", shape: "square", w: 14, h: 12, sw: 2.5, dash: "6,5", lw: 2.5 },
  { v: dR_B, color: RED, shape: "circle", w: 18, h: 15, sw: 2.5, dash: "4,5", lw: 3 }
];
dRSeries.forEach(s => seriesLine(gD, xDR, yDR, s.v, s));
dRSeries.forEach(s => seriesMarks(gD, xDR, yDR, s.v, s));

axisL(gD, yDL, 1206.4, dLMajor, 22, { pad: 13, fs: 37, sx: 1.15, fmt: d => d.toFixed(1), dw: 4.5, tw: 3.5 });
axisL(gD, yDL, 1206.4, dLMinor, 11, { noDomain: true, tw: 3.5 });
axisB(gD, xDL, 2276.2, nMajD, 16, { pad: 20, fs: 37, sx: 1.15, fmt: d => String(d), dw: 4.5, tw: 3.5 });
axisB(gD, xDL, 2276.2, nVals, 10, { noDomain: true, tw: 3.5 });
axisL(gD, yDR, 1780.6, dRMajor, 22, { pad: -2, fs: 37, sx: 1.15, fmt: d => d.toFixed(2), dw: 4.5, tw: 3.5 });
axisL(gD, yDR, 1780.6, dRMinor, 11, { noDomain: true, tw: 3.5 });
axisB(gD, xDR, 2276.2, nMajD, 16, { pad: 20, fs: 37, sx: 1.15, fmt: d => String(d), dw: 4.5, tw: 3.5 });
axisB(gD, xDR, 2276.2, nVals, 10, { noDomain: true, tw: 3.5 });

dLLabels.forEach(l => txt(gD, l.x, l.y, l.t, { fs: 36, sx: 1.06 }));
dRLabels.forEach(l => txt(gD, l.x, l.y, l.t, { fs: 36, sx: 1.06 }));
txt(gD, 1279, 1334, "deep potentials", { fs: 37, sx: 1.05 });
txt(gD, 1862, 1338, "shallow potentials", { fs: 37, sx: 1.05 });
txt(gD, 1100, 1697, ["μ", { sub: "i,ν=0" }, " (μ", { sub: "B" }, ")"], { fs: 44, rot: -90, anchor: "middle" });
txt(gD, 1442, 2390, "n", { fs: 44, sx: 1.1, anchor: "middle" });
txt(gD, 2017, 2390, "n", { fs: 44, sx: 1.1, anchor: "middle" });
txt(gD, 1015, 1287, "d)", { fs: 50, sx: 1.1, bold: true });
</script>
</body>
</html>
